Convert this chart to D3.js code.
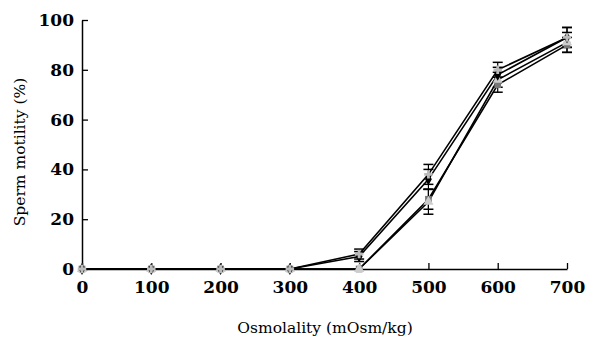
<!DOCTYPE html>
<html><head><meta charset="utf-8">
<script src="https://cdn.jsdelivr.net/npm/d3@7"></script>
<style>body{margin:0;background:#fff}</style></head>
<body><svg id="c" width="606" height="339"></svg>
<script>
const osmolality = [0,100,200,300,400,500,600,700];
const seriesDiamond = [0,0,0,0,5,36,78,93];
const seriesSquare  = [0,0,0,0,0,28,74,90];
const seriesTriangle= [0,0,0,0,0,27,76,91];
const seriesStar    = [0,0,0,0,6,38,80,93];
const errDiamond  = [0,0,0,0,2,4,3,4];
const errSquare   = [0,0,0,0,0,4,3,3];
const errTriangle = [0,0,0,0,0,5,3,4];
const errStar     = [0,0,0,0,2,4,3,4];
const xTicks = [0,100,200,300,400,500,600,700];
const yTicks = [0,20,40,60,80,100];

const series = [
  {v: seriesSquare, e: errSquare, shape: d3.symbolSquare, color:"#777", size:45},
  {v: seriesTriangle, e: errTriangle, shape: d3.symbolTriangle, color:"#ccc", size:45},
  {v: seriesDiamond, e: errDiamond, shape: d3.symbolDiamond, color:"#000", size:40},
  {v: seriesStar, e: errStar, shape: d3.symbolCross, color:"#bbb", size:40}
];

const svg = d3.select("#c");
const x = d3.scaleLinear().domain([0,700]).range([82,567]);
const y = d3.scaleLinear().domain([0,100]).range([269,20]);
const font = "DejaVu Serif, serif";

const gx = svg.append("g").attr("transform","translate(0,269)")
  .call(d3.axisBottom(x).tickValues(xTicks).tickSizeInner(-6).tickSizeOuter(0).tickPadding(12));
const gy = svg.append("g").attr("transform","translate(82,0)")
  .call(d3.axisLeft(y).tickValues(yTicks).tickSizeInner(-6).tickSizeOuter(0).tickPadding(8));
[gx,gy].forEach(g=>{
  g.select(".domain").attr("stroke","#000").attr("stroke-width",1.5);
  g.selectAll(".tick line").attr("stroke","#000").attr("stroke-width",1.3);
  g.selectAll("text").attr("font-family",font).attr("font-size",17).attr("font-weight","bold").attr("fill","#000");
});

const line = d3.line().x((d,i)=>x(osmolality[i])).y(d=>y(d));
series.forEach(s=>{
  svg.append("path").datum(s.v).attr("d",line).attr("fill","none").attr("stroke","#000").attr("stroke-width",1.6);
});
series.forEach(s=>{
  const g = svg.append("g");
  s.v.forEach((v,i)=>{
    if(s.e[i]>0){
      const cx=x(osmolality[i]);
      g.append("line").attr("x1",cx).attr("x2",cx).attr("y1",y(v-s.e[i])).attr("y2",y(v+s.e[i])).attr("stroke","#000").attr("stroke-width",1.2);
      [v-s.e[i],v+s.e[i]].forEach(t=>g.append("line").attr("x1",cx-5).attr("x2",cx+5).attr("y1",y(t)).attr("y2",y(t)).attr("stroke","#000").attr("stroke-width",1.5));
    }
  });
});
series.forEach(s=>{
  svg.append("g").selectAll("path").data(s.v).join("path")
    .attr("d",d3.symbol().type(s.shape).size(s.size))
    .attr("transform",(d,i)=>`translate(${x(osmolality[i])},${y(d)})`)
    .attr("fill",s.color);
});

svg.append("text").attr("x",325).attr("y",333).attr("text-anchor","middle")
  .attr("font-family",font).attr("font-size",15.5).text("Osmolality (mOsm/kg)");
svg.append("text").attr("transform","translate(25,152) rotate(-90)").attr("text-anchor","middle")
  .attr("font-family",font).attr("font-size",15.5).text("Sperm motility (%)");
</script></body></html>
